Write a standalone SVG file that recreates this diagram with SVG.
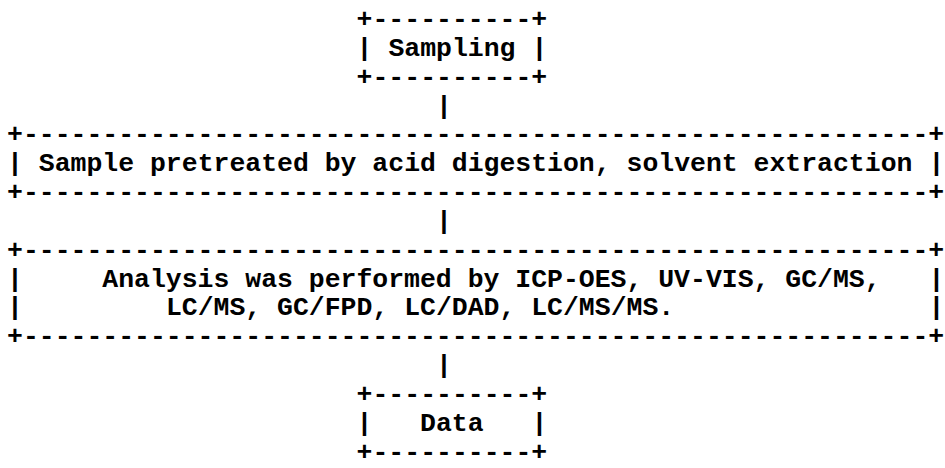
<svg xmlns="http://www.w3.org/2000/svg" width="945" height="468" viewBox="0 0 945 468">
<style>
text { font-family: "Liberation Mono", "Courier New", monospace; font-weight: bold; font-size: 26.48px; fill: #000; white-space: pre; }
</style>
<rect width="945" height="468" fill="#fff"/>
<g id="sampling">
<text x="356.6" y="27">+----------+</text>
<text x="356.6" y="55.83">|</text>
<text x="388.4" y="55.83">Sampling</text>
<text x="531.4" y="55.83">|</text>
<text x="356.6" y="84.67">+----------+</text>
</g>
<g id="pretreatment">
<text x="7" y="142.33">+---------------------------------------------------------+</text>
<text x="7" y="171.17">|</text>
<text x="38.8" y="171.17">Sample pretreated by acid digestion, solvent extraction</text>
<text x="928.6" y="171.17">|</text>
<text x="7" y="200">+---------------------------------------------------------+</text>
</g>
<g id="analysis">
<text x="7" y="257.67">+---------------------------------------------------------+</text>
<text x="7" y="286.5">|</text>
<text x="102.3" y="286.5">Analysis was performed by ICP-OES, UV-VIS, GC/MS,</text>
<text x="928.6" y="286.5">|</text>
<text x="7" y="315.33">|</text>
<text x="165.9" y="315.33">LC/MS, GC/FPD, LC/DAD, LC/MS/MS.</text>
<text x="928.6" y="315.33">|</text>
<text x="7" y="344.17">+---------------------------------------------------------+</text>
</g>
<g id="data">
<text x="356.6" y="401.83">+----------+</text>
<text x="356.6" y="430.67">|</text>
<text x="420.1" y="430.67">Data</text>
<text x="531.4" y="430.67">|</text>
<text x="356.6" y="459.5">+----------+</text>
</g>
<g id="connectors">
<text x="436" y="113.5">|</text>
<text x="436" y="228.83">|</text>
<text x="436" y="373">|</text>
</g>
</svg>
